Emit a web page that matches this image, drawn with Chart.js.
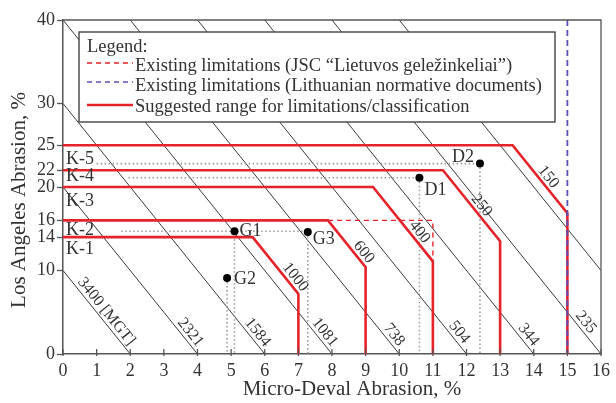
<!DOCTYPE html>
<html><head><meta charset="utf-8">
<script src="https://cdn.jsdelivr.net/npm/chart.js@4.4.1/dist/chart.umd.min.js"></script>
<style>html,body{margin:0;padding:0;background:#fff;}#wrap{width:616px;height:403px;}</style>
</head><body><div id="wrap"><canvas id="c" width="616" height="403"></canvas></div>
<script>
// ---- data ----
const xTicks = [0,1,2,3,4,5,6,7,8,9,10,11,12,13,14,15,16];
const yTicks = [0,10,14,16,20,22,25,30,40];
const xTitle = 'Micro-Deval Abrasion, %';
const yTitle = 'Los Angeles Abrasion, %';
// MGT isolines: LA = slope * (intercept - MDE)
const isolineSlope = 5;
const isolineIntercept = [2,4,6,8,10,12,14,16,18];
const isolineMGT = ['3400 [MGT]','2321','1584','1081','738','504','344','235',''];
// suggested class limits
const classNames = ['K-1','K-2','K-3','K-4','K-5'];
const limitLA = [14,16,20,22,25];
const limitMDE = [7,9,11,13,15];
const limitMGT = ['1000','600','400','250','150'];
const limitIntercept = [8.44,11.08,13.22,15.7,18.37];
// existing limitations
const jscLA = 16, jscMDE = 11;
const ltMDE = 15;
// samples
const sampleNames = ['G1','G2','G3','D1','D2'];
const sampleMDE = [5.1,4.88,7.28,10.6,12.4];
const sampleLA = [14.7,9.1,14.6,21.1,22.8];
const guideFromMDE = [1.73,1.95,1.0];   // horizontal guides
const guideLA = [14.7,21.1,22.8];
const guideToMDE = [7.28,10.6,12.4];
const legendTitle = 'Legend:';
const legendTexts = ['Existing limitations (JSC \u201CLietuvos gele\u017Einkeliai\u201D)','Existing limitations (Lithuanian normative documents)','Suggested range for limitations/classification'];

// ---- label placement (styles/positions) ----
const isoLabelLA = [4.5,2.0,2.0,2.0,1.7,2.0,1.7,3.2,0];
const limitLabelLA = [8.6,11.6,14.0,17.2,20.6];
const classLabelLA = [12.6,14.8,18.3,21.3,23.3];
const sampleLabelOff = [[5,0,'left'],[7,1,'left'],[5,7,'left'],[5,12,'left'],[-6,-6,'right']];

const RED = '#e5232b', BLUE = '#5a52b8', INK = '#333', LINE = '#3a3a3a', DOT = '#9a9a9a';
const FONT = 'Liberation Serif, Times New Roman, serif';

function isoEnds(c){
  const a = (isolineSlope*c <= 40) ? {x:0,y:isolineSlope*c} : {x:c-40/isolineSlope,y:40};
  const b = (c <= 16) ? {x:c,y:0} : {x:16,y:isolineSlope*(c-16)};
  return [a,b];
}
const ds = [];
isolineIntercept.forEach((c)=>{
  ds.push({data:isoEnds(c), showLine:true, borderColor:LINE, borderWidth:1, pointRadius:0, order:50});
});
guideLA.forEach((la,i)=>{
  ds.push({data:[{x:guideFromMDE[i],y:la},{x:guideToMDE[i],y:la}], showLine:true, borderColor:DOT, borderWidth:1.6, borderDash:[1.5,2.5], pointRadius:0, order:45});
});
sampleMDE.forEach((m,i)=>{
  ds.push({data:[{x:m,y:sampleLA[i]},{x:m,y:0}], showLine:true, borderColor:DOT, borderWidth:1.6, borderDash:[1.5,2.5], pointRadius:0, order:45});
});
limitLA.forEach((la,i)=>{
  const c = limitIntercept[i], xv = limitMDE[i];
  ds.push({data:[{x:0,y:la},{x:c-la/isolineSlope,y:la},{x:xv,y:isolineSlope*(c-xv)},{x:xv,y:0}], showLine:true, borderColor:RED, borderWidth:2.6, pointRadius:0, order:20, tension:0});
});
// JSC existing limitation (dashed red)
ds.push({data:[{x:limitIntercept[1]-jscLA/isolineSlope,y:jscLA},{x:jscMDE,y:jscLA},{x:jscMDE,y:isolineSlope*(limitIntercept[2]-jscMDE)}], showLine:true, borderColor:RED, borderWidth:1.4, borderDash:[5,4], pointRadius:0, order:15});
// Lithuanian normative (dashed blue)
ds.push({data:[{x:ltMDE,y:40},{x:ltMDE,y:0}], showLine:true, borderColor:BLUE, borderWidth:1.8, borderDash:[6,4], pointRadius:0, order:10});
// samples
ds.push({data:sampleMDE.map((m,i)=>({x:m,y:sampleLA[i]})), showLine:false, pointRadius:4, pointBackgroundColor:'#000', pointBorderWidth:0, order:0});

const deco = {
  id:'deco',
  afterDatasetsDraw(chart){
    const ctx = chart.ctx, X = v=>chart.scales.x.getPixelForValue(v), Y = v=>chart.scales.y.getPixelForValue(v);
    const ca = chart.chartArea;
    ctx.save();
    // frame
    ctx.strokeStyle = '#555'; ctx.lineWidth = 1.3;
    ctx.beginPath(); ctx.moveTo(ca.left, ca.top); ctx.lineTo(ca.right, ca.top); ctx.lineTo(ca.right, ca.bottom); ctx.stroke();
    // inward x ticks
    ctx.lineWidth = 1.3;
    xTicks.forEach(v=>{ ctx.beginPath(); ctx.moveTo(X(v), Y(0)-5); ctx.lineTo(X(v), Y(0)+2); ctx.stroke(); });
    // rotated isoline labels
    const ang = Math.atan2(Y(0)-Y(isolineSlope), X(1)-X(0));
    const px = Math.cos(ang+Math.PI/2), py = Math.sin(ang+Math.PI/2);
    const off = 8;
    ctx.fillStyle = INK; ctx.font = '16px '+FONT; ctx.textAlign='center'; ctx.textBaseline='middle';
    const rot = (txt, mx, la)=>{
      const x = X(mx) - off*px, y = Y(la) - off*py;
      ctx.save(); ctx.translate(x,y); ctx.rotate(ang); ctx.fillText(txt,0,0); ctx.restore();
    };
    isolineMGT.forEach((t,i)=>{ if(t) rot(t, isolineIntercept[i]-isoLabelLA[i]/isolineSlope, isoLabelLA[i]); });
    limitMGT.forEach((t,i)=>{ rot(t, limitIntercept[i]-limitLabelLA[i]/isolineSlope, limitLabelLA[i]); });
    // class labels
    ctx.font = '18px '+FONT; ctx.textAlign='left'; ctx.textBaseline='middle';
    classNames.forEach((t,i)=>{ ctx.fillText(t, ca.left+3, Y(classLabelLA[i])); });
    // sample labels
    sampleNames.forEach((t,i)=>{
      const o = sampleLabelOff[i];
      ctx.textAlign = o[2];
      ctx.fillText(t, X(sampleMDE[i])+o[0], Y(sampleLA[i])+o[1]);
    });
    // legend box
    const bx=79, by=32, bw=476, bh=90;
    ctx.fillStyle='#fff'; ctx.fillRect(bx,by,bw,bh);
    ctx.strokeStyle='#444'; ctx.lineWidth=1.4; ctx.strokeRect(bx,by,bw,bh);
    ctx.fillStyle=INK; ctx.textAlign='left'; ctx.textBaseline='alphabetic'; ctx.font='18.5px '+FONT;
    ctx.fillText(legendTitle, 87, 52);
    const rows=[71,91,111.5], mk=[63,82,105];
    const styles=[[RED,1.6,[5,4]],[BLUE,1.3,[5,4]],[RED,2.6,[]]];
    legendTexts.forEach((t,i)=>{
      ctx.save(); ctx.strokeStyle=styles[i][0]; ctx.lineWidth=styles[i][1]; ctx.setLineDash(styles[i][2]);
      ctx.beginPath(); ctx.moveTo(87,mk[i]); ctx.lineTo(133,mk[i]); ctx.stroke(); ctx.restore();
      ctx.fillText(t, 135, rows[i]);
    });
    // axis titles
    ctx.font='21px '+FONT; ctx.textAlign='center'; ctx.textBaseline='middle';
    ctx.fillText(xTitle, 352, 389);
    ctx.save(); ctx.translate(19, 200); ctx.rotate(-Math.PI/2); ctx.fillText(yTitle,0,0); ctx.restore();
    ctx.restore();
  }
};

new Chart(document.getElementById('c'), {
  type:'scatter',
  data:{datasets:ds},
  options:{
    responsive:false, animation:false, devicePixelRatio:1,
    layout:{padding:{left:0,right:14,top:20,bottom:0}},
    plugins:{legend:{display:false}, tooltip:{enabled:false}},
    scales:{
      x:{type:'linear', min:0, max:16,
        afterFit(s){ s.height = 49; },
        afterBuildTicks(s){ s.ticks = xTicks.map(v=>({value:v})); },
        grid:{drawOnChartArea:false, drawTicks:false},
        border:{color:'#555', width:1.5},
        ticks:{autoSkip:false, maxRotation:0, padding:6, color:INK, font:{family:FONT,size:18}}},
      y:{type:'linear', min:0, max:40,
        afterFit(s){ s.width = 63; },
        afterBuildTicks(s){ s.ticks = yTicks.map(v=>({value:v})); },
        grid:{drawOnChartArea:false, tickLength:6, color:'#555', tickWidth:1.3},
        border:{color:'#555', width:1.5},
        ticks:{autoSkip:false, padding:2, color:INK, font:{family:FONT,size:18}}}
    }
  },
  plugins:[deco]
});
</script></body></html>
